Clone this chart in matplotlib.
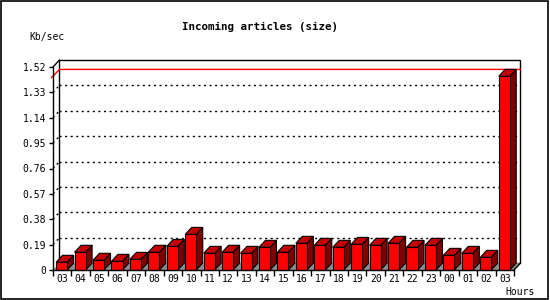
import matplotlib
matplotlib.use("Agg")
import matplotlib.pyplot as plt
from matplotlib.patches import Polygon, Rectangle

# hourly incoming article size, Kb/sec
hours = ['03', '04', '05', '06', '07', '08', '09', '10', '11', '12', '13', '14',
         '15', '16', '17', '18', '19', '20', '21', '22', '23', '00', '01', '02', '03']
kbsec = [0.058, 0.133, 0.073, 0.065, 0.080, 0.133, 0.177, 0.267, 0.125, 0.133,
         0.125, 0.170, 0.133, 0.200, 0.185, 0.170, 0.192, 0.185, 0.200, 0.170,
         0.185, 0.110, 0.125, 0.095, 1.450]
yticks = [0, 0.19, 0.38, 0.57, 0.76, 0.95, 1.14, 1.33, 1.52]
ylabels = ['0', '0.19', '0.38', '0.57', '0.76', '0.95', '1.14', '1.33', '1.52']

mono = 'DejaVu Sans Mono'
n = len(hours)
ymax = yticks[-1]
dx = 0.35      # depth in slot units
dy = 0.052     # depth in value units
x0_off, bw = 0.17, 0.6

fig = plt.figure(figsize=(5.5, 3), dpi=100)
ax = fig.add_axes([53/550, 30/300, 461/550, 203/300])
ax.set_xlim(0, n)
ax.set_ylim(0, ymax)
ax.set_facecolor('none')
for s in ['top', 'right']:
    ax.spines[s].set_visible(False)
for s in ['left', 'bottom']:
    ax.spines[s].set_linewidth(1)
    ax.spines[s].set_zorder(6)

# back wall
ax.add_patch(Rectangle((dx, dy), n, ymax, facecolor='white', edgecolor='black',
                       lw=1, clip_on=False, zorder=0))
# floor
ax.add_patch(Polygon([(0, 0), (n, 0), (n + dx, dy), (dx, dy)], closed=True,
                     facecolor='#8c8c8c', edgecolor='none', clip_on=False, zorder=1))
# edges of the box
ax.plot([0, dx], [ymax, ymax + dy], color='black', lw=1, clip_on=False, zorder=2)
ax.plot([n, n + dx], [0, dy], color='black', lw=1, clip_on=False, zorder=2)

# dotted grid on back wall and left wall
for v in yticks[1:-1]:
    ax.plot([dx, n + dx], [v + dy, v + dy], color='black', lw=1,
            linestyle=(0, (1.5, 2.5)), clip_on=False, zorder=1)
    ax.plot([0, dx], [v, v + dy], color='black', lw=1,
            linestyle=(0, (1.5, 2.5)), clip_on=False, zorder=1)

# max line
vmax = max(kbsec)
ax.plot([-0.08, dx, n + dx], [vmax - 0.01, vmax + dy, vmax + dy], color='red',
        lw=1, clip_on=False, zorder=1)

# bars
for i, v in enumerate(kbsec):
    a = i + x0_off
    b = a + bw
    ax.add_patch(Polygon([(b, 0), (b + dx, dy), (b + dx, v + dy), (b, v)], closed=True,
                         facecolor='#800000', edgecolor='black', lw=0.8,
                         clip_on=False, zorder=3))
    ax.add_patch(Polygon([(a, v), (b, v), (b + dx, v + dy), (a + dx, v + dy)], closed=True,
                         facecolor='#c40000', edgecolor='black', lw=0.8,
                         clip_on=False, zorder=3))
    ax.add_patch(Rectangle((a, 0), bw, v, facecolor='#ff0000', edgecolor='black',
                           lw=0.8, clip_on=False, zorder=4))

ax.set_yticks(yticks)
ax.set_yticklabels(ylabels, fontsize=7, family=mono)
ax.tick_params(axis='y', length=3, width=1, pad=2)
ax.set_xticks(range(n + 1))
ax.set_xticklabels([])
ax.tick_params(axis='x', which='major', length=4, width=1)
ax.set_xticks([i + 0.5 for i in range(n)], minor=True)
ax.set_xticklabels(hours, minor=True, fontsize=7, family=mono)
ax.tick_params(axis='x', which='minor', length=0, pad=3)

fig.text(260/550, 1 - 27/300, 'Incoming articles (size)', ha='center', va='center',
         fontsize=7.8, fontweight='bold', family=mono)
fig.text(29/550, 1 - 37/300, 'Kb/sec', ha='left', va='center', fontsize=7, family=mono)
fig.text(505/550, 1 - 292/300, 'Hours', ha='left', va='center', fontsize=7, family=mono)

fig.patches.append(Rectangle((0.001, 0.002), 0.996, 0.995, transform=fig.transFigure,
                             fill=False, edgecolor='black', lw=1.2))

fig.savefig('out.png', dpi=100)
